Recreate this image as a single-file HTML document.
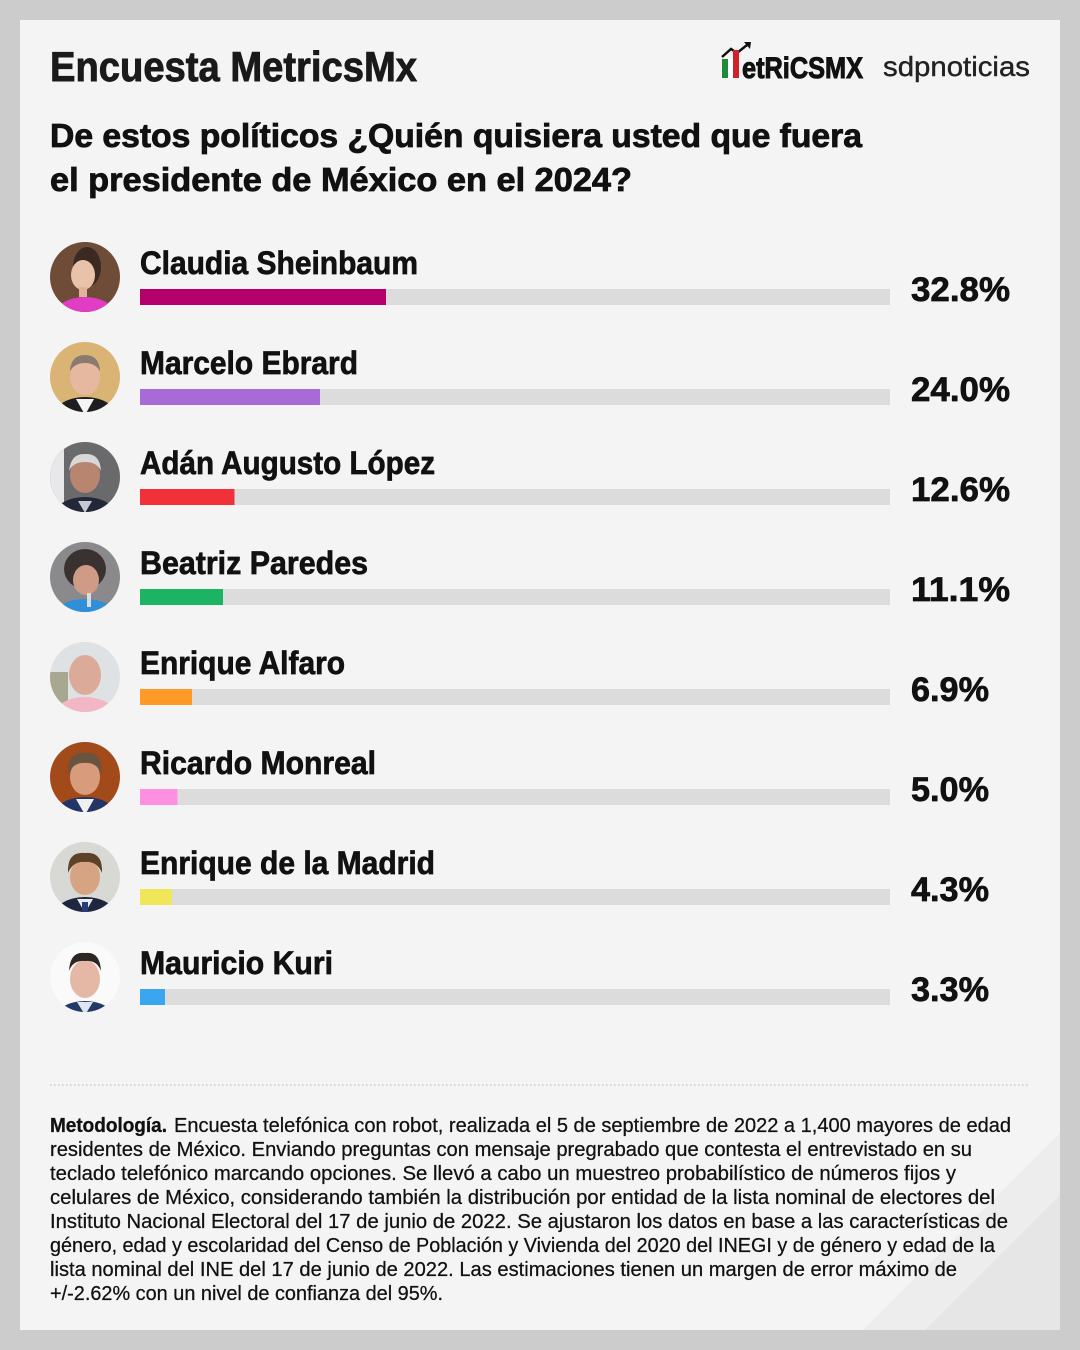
<!DOCTYPE html>
<html>
<head>
<meta charset="utf-8">
<style>
html,body{margin:0;padding:0;background:#cccccc;}
svg{display:block;}
text{font-family:"Liberation Sans",Arial,sans-serif;}
</style>
</head>
<body>
<svg width="1080" height="1350" viewBox="0 0 1080 1350" xmlns="http://www.w3.org/2000/svg">
<defs>
<clipPath id="cc"><circle cx="0" cy="0" r="35"/></clipPath>
</defs>
<rect x="0" y="0" width="1080" height="1350" fill="#cccccc"/>
<rect x="20" y="20" width="1040" height="1310" fill="#f4f4f4"/>
<polygon points="1060,1133 1060,1330 863,1330" fill="#ededed"/>
<polygon points="1060,1195 1060,1330 925,1330" fill="#e6e6e6"/>

<!-- Header -->
<text x="50" y="81" font-size="42" font-weight="bold" fill="#1a1a1a" stroke="#1a1a1a" stroke-width="0.9" textLength="367" lengthAdjust="spacingAndGlyphs">Encuesta MetricsMx</text>

<!-- Metrics logo -->
<polyline points="722,57 731,49 737,53 747,45" fill="none" stroke="#111" stroke-width="2.5"/>
<polygon points="744,42 751,42 750,49" fill="#111"/>
<rect x="722" y="59" width="6" height="19" fill="#1d8a3c"/>
<rect x="728" y="59" width="5" height="19" fill="#ffffff"/>
<rect x="733" y="50" width="6" height="28" fill="#d0202a"/>
<text x="742" y="78" font-size="30" font-weight="bold" fill="#111" stroke="#111" stroke-width="1" textLength="121" lengthAdjust="spacingAndGlyphs">etRiCSMX</text>
<text x="883" y="76" font-size="28" fill="#222" stroke="#222" stroke-width="0.4" textLength="147" lengthAdjust="spacingAndGlyphs">sdpnoticias</text>

<g fill="#111" stroke="#111" stroke-width="0.8" font-weight="bold">
<text x="50" y="147" font-size="33" textLength="812" lengthAdjust="spacingAndGlyphs">De estos políticos ¿Quién quisiera usted que fuera</text>
<text x="50" y="191" font-size="33" textLength="582" lengthAdjust="spacingAndGlyphs">el presidente de México en el 2024?</text>
</g>

<!-- Rows -->
<g font-weight="bold" fill="#111" stroke="#111" stroke-width="0.7">
<text x="140" y="274" font-size="32" textLength="278" lengthAdjust="spacingAndGlyphs">Claudia Sheinbaum</text>
<text x="140" y="374" font-size="32" textLength="218" lengthAdjust="spacingAndGlyphs">Marcelo Ebrard</text>
<text x="140" y="474" font-size="32" textLength="295" lengthAdjust="spacingAndGlyphs">Adán Augusto López</text>
<text x="140" y="574" font-size="32" textLength="228" lengthAdjust="spacingAndGlyphs">Beatriz Paredes</text>
<text x="140" y="674" font-size="32" textLength="205" lengthAdjust="spacingAndGlyphs">Enrique Alfaro</text>
<text x="140" y="774" font-size="32" textLength="236" lengthAdjust="spacingAndGlyphs">Ricardo Monreal</text>
<text x="140" y="874" font-size="32" textLength="295" lengthAdjust="spacingAndGlyphs">Enrique de la Madrid</text>
<text x="140" y="974" font-size="32" textLength="193" lengthAdjust="spacingAndGlyphs">Mauricio Kuri</text>

<text x="911" y="301" font-size="34" textLength="99" lengthAdjust="spacingAndGlyphs">32.8%</text>
<text x="911" y="401" font-size="34" textLength="99" lengthAdjust="spacingAndGlyphs">24.0%</text>
<text x="911" y="501" font-size="34" textLength="99" lengthAdjust="spacingAndGlyphs">12.6%</text>
<text x="911" y="601" font-size="34" textLength="99" lengthAdjust="spacingAndGlyphs">11.1%</text>
<text x="911" y="701" font-size="34" textLength="78" lengthAdjust="spacingAndGlyphs">6.9%</text>
<text x="911" y="801" font-size="34" textLength="78" lengthAdjust="spacingAndGlyphs">5.0%</text>
<text x="911" y="901" font-size="34" textLength="78" lengthAdjust="spacingAndGlyphs">4.3%</text>
<text x="911" y="1001" font-size="34" textLength="78" lengthAdjust="spacingAndGlyphs">3.3%</text>
</g>

<g fill="#dcdcdc">
<rect x="140" y="289" width="750" height="16"/>
<rect x="140" y="389" width="750" height="16"/>
<rect x="140" y="489" width="750" height="16"/>
<rect x="140" y="589" width="750" height="16"/>
<rect x="140" y="689" width="750" height="16"/>
<rect x="140" y="789" width="750" height="16"/>
<rect x="140" y="889" width="750" height="16"/>
<rect x="140" y="989" width="750" height="16"/>
</g>
<rect x="140" y="289" width="246" height="16" fill="#b5006b"/>
<rect x="140" y="389" width="180" height="16" fill="#a86ad6"/>
<rect x="140" y="489" width="94.5" height="16" fill="#f2303a"/>
<rect x="140" y="589" width="83" height="16" fill="#1cb462"/>
<rect x="140" y="689" width="52" height="16" fill="#ff9a26"/>
<rect x="140" y="789" width="37.5" height="16" fill="#ff8fe0"/>
<rect x="140" y="889" width="32" height="16" fill="#f0e65a"/>
<rect x="140" y="989" width="25" height="16" fill="#3aa6f0"/>

<!-- Avatars -->
<g transform="translate(85,277)"><g clip-path="url(#cc)">
<rect x="-35" y="-35" width="70" height="70" fill="#6e4c38"/>
<ellipse cx="2" cy="-10" rx="14" ry="20" fill="#3a2a22"/>
<ellipse cx="0" cy="38" rx="30" ry="18" fill="#e03cc4"/>
<ellipse cx="-2" cy="-2" rx="12" ry="15" fill="#e9c2aa"/>
<rect x="-6" y="10" width="8" height="10" fill="#e0b49c"/>
</g></g>
<g transform="translate(85,377)"><g clip-path="url(#cc)">
<rect x="-35" y="-35" width="70" height="70" fill="#d9b474"/>
<ellipse cx="0" cy="40" rx="32" ry="20" fill="#1e1e22"/>
<polygon points="-9,22 9,22 0,38" fill="#f4f4f4"/>
<ellipse cx="0" cy="0" rx="15" ry="18" fill="#e6b8a0"/>
<path d="M-15,-6 Q-14,-22 0,-22 Q14,-22 15,-6 Q10,-14 0,-14 Q-10,-14 -15,-6Z" fill="#8a7a70"/>
</g></g>
<g transform="translate(85,477)"><g clip-path="url(#cc)">
<rect x="-35" y="-35" width="70" height="70" fill="#6a6a6c"/>
<rect x="-35" y="-35" width="14" height="70" fill="#e8e8ea"/>
<ellipse cx="0" cy="40" rx="32" ry="20" fill="#232838"/>
<polygon points="-7,24 7,24 0,36" fill="#c8c8d0"/>
<ellipse cx="0" cy="-2" rx="15" ry="18" fill="#b88670"/>
<path d="M-16,-6 Q-14,-24 0,-23 Q15,-24 16,-6 Q12,-15 0,-15 Q-12,-15 -16,-6Z" fill="#d8d8d8"/>
</g></g>
<g transform="translate(85,577)"><g clip-path="url(#cc)">
<rect x="-35" y="-35" width="70" height="70" fill="#8a8a8c"/>
<ellipse cx="0" cy="-8" rx="21" ry="20" fill="#3a3230"/>
<ellipse cx="0" cy="40" rx="32" ry="18" fill="#2f8fd8"/>
<ellipse cx="1" cy="3" rx="13" ry="15" fill="#cf9a86"/>
<rect x="2" y="16" width="4" height="14" fill="#dddddd"/>
</g></g>
<g transform="translate(85,677)"><g clip-path="url(#cc)">
<rect x="-35" y="-35" width="70" height="70" fill="#dfe2e4"/>
<rect x="-35" y="-5" width="18" height="40" fill="#a8a890"/>
<ellipse cx="0" cy="40" rx="32" ry="20" fill="#f2b6c4"/>
<ellipse cx="0" cy="-2" rx="16" ry="20" fill="#dcaa98"/>
</g></g>
<g transform="translate(85,777)"><g clip-path="url(#cc)">
<rect x="-35" y="-35" width="70" height="70" fill="#a24a1a"/>
<ellipse cx="0" cy="40" rx="32" ry="20" fill="#233466"/>
<polygon points="-9,22 9,22 0,38" fill="#f0f0f0"/>
<ellipse cx="0" cy="0" rx="15" ry="18" fill="#d89c7c"/>
<path d="M-17,-2 Q-18,-26 0,-24 Q18,-26 17,-2 Q12,-15 0,-14 Q-12,-15 -17,-2Z" fill="#6a5440"/>
</g></g>
<g transform="translate(85,877)"><g clip-path="url(#cc)">
<rect x="-35" y="-35" width="70" height="70" fill="#d8d8d4"/>
<ellipse cx="0" cy="40" rx="32" ry="20" fill="#1e2640"/>
<polygon points="-8,22 8,22 0,36" fill="#e8ecf4"/>
<rect x="-3" y="25" width="6" height="12" fill="#2a3a7a"/>
<ellipse cx="0" cy="0" rx="15" ry="18" fill="#d6a482"/>
<path d="M-17,-4 Q-18,-26 0,-24 Q18,-26 17,-4 Q12,-16 0,-15 Q-12,-16 -17,-4Z" fill="#5e4228"/>
</g></g>
<g transform="translate(85,977)"><g clip-path="url(#cc)">
<rect x="-35" y="-35" width="70" height="70" fill="#fafafa"/>
<ellipse cx="0" cy="42" rx="30" ry="18" fill="#233a66"/>
<polygon points="-8,25 8,25 0,38" fill="#dfe6f0"/>
<ellipse cx="0" cy="2" rx="15" ry="19" fill="#e4b8a4"/>
<path d="M-16,-6 Q-15,-26 0,-24 Q15,-26 16,-6 Q12,-17 0,-16 Q-12,-17 -16,-6Z" fill="#2c2624"/>
</g></g>

<!-- dotted rule -->
<line x1="50" y1="1085" x2="1030" y2="1085" stroke="#bdbdbd" stroke-width="1.2" stroke-dasharray="1.5 2.5"/>

<!-- Footer -->
<g font-size="20" fill="#111">
<text x="50" y="1132" font-weight="bold" stroke="#111" stroke-width="0.3" textLength="117" lengthAdjust="spacingAndGlyphs">Metodología.</text>
<g stroke="#111" stroke-width="0.25">
<text x="174" y="1132" textLength="837" lengthAdjust="spacingAndGlyphs">Encuesta telefónica con robot, realizada el 5 de septiembre de 2022 a 1,400 mayores de edad</text>
<text x="50" y="1156" textLength="922" lengthAdjust="spacingAndGlyphs">residentes de México. Enviando preguntas con mensaje pregrabado que contesta el entrevistado en su</text>
<text x="50" y="1180" textLength="906" lengthAdjust="spacingAndGlyphs">teclado telefónico marcando opciones. Se llevó a cabo un muestreo probabilístico de números fijos y</text>
<text x="50" y="1204" textLength="945" lengthAdjust="spacingAndGlyphs">celulares de México, considerando también la distribución por entidad de la lista nominal de electores del</text>
<text x="50" y="1228" textLength="958" lengthAdjust="spacingAndGlyphs">Instituto Nacional Electoral del 17 de junio de 2022. Se ajustaron los datos en base a las características de</text>
<text x="50" y="1252" textLength="945" lengthAdjust="spacingAndGlyphs">género, edad y escolaridad del Censo de Población y Vivienda del 2020 del INEGI y de género y edad de la</text>
<text x="50" y="1276" textLength="907" lengthAdjust="spacingAndGlyphs">lista nominal del INE del 17 de junio de 2022. Las estimaciones tienen un margen de error máximo de</text>
<text x="50" y="1300" textLength="393" lengthAdjust="spacingAndGlyphs">+/-2.62% con un nivel de confianza del 95%.</text>
</g>
</g>
</svg>
</body>
</html>
